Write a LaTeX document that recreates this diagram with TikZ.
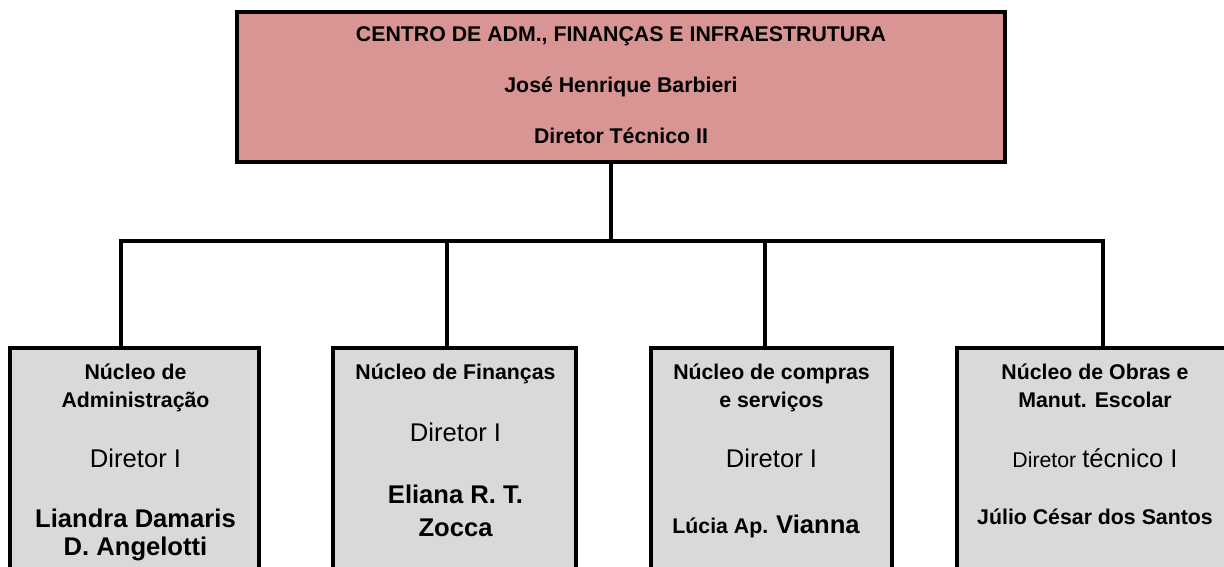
\documentclass[tikz,border=0pt]{standalone}
\usepackage{fontspec}
\setmainfont{Liberation Sans}
\newcommand\smf{\fontsize{21.3}{26}\selectfont}
\newcommand\lgf{\fontsize{25.6}{30}\selectfont}
\definecolor{toppink}{HTML}{D99594}
\definecolor{boxgray}{HTML}{D9D9D9}
\begin{document}
\begin{tikzpicture}[x=1pt,y=-1pt,
  topbox/.style={draw=black,line width=3.2pt,fill=toppink,rectangle,inner sep=0pt},
  unitbox/.style={draw=black,line width=3.2pt,fill=boxgray,rectangle,inner sep=0pt},
  conn/.style={draw=black,line width=3.2pt},
  txt/.style={anchor=base,inner sep=0pt,text=black}]
\useasboundingbox (0,0) rectangle (1224,567);
\clip (0,0) rectangle (1224,567);
% boxes
\node[topbox,minimum width=768pt,minimum height=150pt] (top) at (621,87) {};
\node[unitbox,minimum width=249pt,minimum height=250pt] (bA) at (134.5,473) {};
\node[unitbox,minimum width=243pt,minimum height=250pt] (bB) at (454.5,473) {};
\node[unitbox,minimum width=241pt,minimum height=250pt] (bC) at (771.5,473) {};
\node[unitbox,minimum width=278pt,minimum height=250pt] (bD) at (1096,473) {};
% junctions
\coordinate (j0) at (611,241);
\coordinate (jA) at (121,241);
\coordinate (jB) at (447,241);
\coordinate (jC) at (765,241);
\coordinate (jD) at (1103,241);
\draw[conn] (top.south -| j0) -- (j0);
\draw[conn,line cap=rect] (jA) -- (jD);
\draw[conn] (jA) -- (jA |- bA.north);
\draw[conn] (jB) -- (jB |- bB.north);
\draw[conn] (jC) -- (jC |- bC.north);
\draw[conn] (jD) -- (jD |- bD.north);
% top texts
\node[txt] (t1) at (621,42) {\smf\bfseries CENTRO DE ADM., FINANÇAS E INFRAESTRUTURA};
\node[txt] (t2) at (621,93) {\smf\bfseries José Henrique Barbieri};
\node[txt] (t3) at (621,144) {\smf\bfseries Diretor Técnico II};
% box A
\node[txt] (a1) at (135.5,379) {\smf\bfseries Núcleo de};
\node[txt] (a2) at (135.5,407) {\smf\bfseries Administração};
\node[txt] (a3) at (135.5,467) {\lgf Diretor I};
\node[txt] (a4) at (135.5,527) {\lgf\bfseries Liandra Damaris};
\node[txt] (a5) at (135.5,555) {\lgf\bfseries D. Angelotti};
% box B
\node[txt] (b1) at (455.5,379) {\smf\bfseries Núcleo de Finanças};
\node[txt] (b2) at (455.5,441) {\lgf Diretor I};
\node[txt] (b3) at (455.5,503) {\lgf\bfseries Eliana R. T.};
\node[txt] (b4) at (455.5,536) {\lgf\bfseries Zocca};
% box C
\node[txt] (c1) at (771.5,379) {\smf\bfseries Núcleo de compras};
\node[txt] (c2) at (771.5,407) {\smf\bfseries e serviços};
\node[txt] (c3) at (771.5,467) {\lgf Diretor I};
\node[txt] (c4) at (766,533) {\smf\bfseries Lúcia Ap. {\lgf Vianna}};
% box D
\node[txt] (d1) at (1095,379) {\smf\bfseries Núcleo de Obras e};
\node[txt] (d2) at (1095,407) {\smf\bfseries Manut. Escolar};
\node[txt] (d3) at (1095,467) {\smf Diretor {\lgf técnico I}};
\node[txt] (d4) at (1095,524) {\smf\bfseries Júlio César dos Santos};
\end{tikzpicture}
\end{document}
